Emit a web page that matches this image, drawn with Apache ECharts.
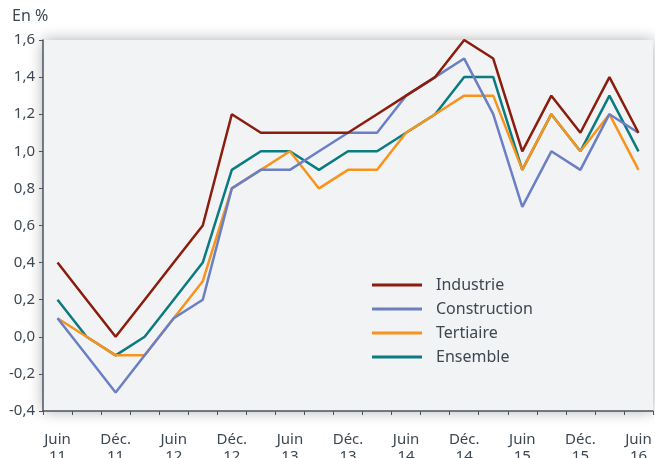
<!DOCTYPE html>
<html>
<head>
<meta charset="utf-8">
<script src="https://cdn.jsdelivr.net/npm/echarts@6/dist/echarts.min.js"></script>
<style>
  html, body { margin: 0; padding: 0; background: #fff; }
  #chart { width: 655px; height: 458px; }
</style>
</head>
<body>
<div id="chart"></div>
<script>
// trimestres, de juin 2011 à juin 2016
const quarters = [
  'Juin\n11', 'Sept.\n11', 'Déc.\n11', 'Mars\n12', 'Juin\n12', 'Sept.\n12', 'Déc.\n12',
  'Mars\n13', 'Juin\n13', 'Sept.\n13', 'Déc.\n13', 'Mars\n14', 'Juin\n14', 'Sept.\n14',
  'Déc.\n14', 'Mars\n15', 'Juin\n15', 'Sept.\n15', 'Déc.\n15', 'Mars\n16', 'Juin\n16'
]

const industrie    = [0.4, 0.2, 0.0, 0.2, 0.4, 0.6, 1.2, 1.1, 1.1, 1.1, 1.1, 1.2, 1.3, 1.4, 1.6, 1.5, 1.0, 1.3, 1.1, 1.4, 1.1]
const construction = [0.1, -0.1, -0.3, -0.1, 0.1, 0.2, 0.8, 0.9, 0.9, 1.0, 1.1, 1.1, 1.3, 1.4, 1.5, 1.2, 0.7, 1.0, 0.9, 1.2, 1.1]
const tertiaire    = [0.1, 0.0, -0.1, -0.1, 0.1, 0.3, 0.8, 0.9, 1.0, 0.8, 0.9, 0.9, 1.1, 1.2, 1.3, 1.3, 0.9, 1.2, 1.0, 1.2, 0.9]
const ensemble     = [0.2, 0.0, -0.1, 0.0, 0.2, 0.4, 0.9, 1.0, 1.0, 0.9, 1.0, 1.0, 1.1, 1.2, 1.4, 1.4, 0.9, 1.2, 1.0, 1.3, 1.0]

const seriesNames = ['Industrie', 'Construction', 'Tertiaire', 'Ensemble']
const colors = ['#8b1d0e', '#6a7fc4', '#f7941e', '#0a7b80']

const textColor = '#3d4752'
const axisColor = '#4a5560'
const font = '"Noto Sans", sans-serif'

const chart = echarts.init(document.getElementById('chart'))

const makeLine = (name, data, i) => ({
  name: name,
  type: 'line',
  data: data,
  symbol: 'none',
  color: colors[i],
  lineStyle: { width: 2.5, color: colors[i] },
  z: 10 - i,
  animation: false
})

chart.setOption({
  backgroundColor: '#ffffff',
  textStyle: { fontFamily: font },
  graphic: [
    {
      type: 'text',
      left: 12,
      top: 8,
      style: { text: 'En %', fontSize: 16, fill: textColor, fontFamily: font }
    }
  ],
  grid: {
    left: 43,
    right: 2,
    top: 40,
    bottom: 47,
    outerBoundsMode: 'none',
    containLabel: false,
    show: true,
    backgroundColor: '#f2f3f5',
    borderWidth: 0,
    shadowBlur: 14,
    shadowColor: 'rgba(0,0,0,0.32)'
  },
  legend: {
    orient: 'vertical',
    left: 367,
    top: 272,
    icon: 'rect',
    itemWidth: 50,
    itemHeight: 3,
    itemGap: 8,
    textStyle: {
      fontSize: 16,
      lineHeight: 16,
      color: textColor,
      fontFamily: font,
      padding: [0, 0, 0, 9]
    },
    data: seriesNames
  },
  xAxis: {
    type: 'category',
    data: quarters,
    boundaryGap: true,
    axisLine: { onZero: false, lineStyle: { color: axisColor, width: 1.5 } },
    axisTick: { show: true, interval: 0, length: 4, lineStyle: { color: axisColor } },
    axisLabel: {
      interval: 1,
      color: textColor,
      fontSize: 15,
      lineHeight: 17,
      margin: 20,
      fontFamily: font
    },
    splitLine: { show: false }
  },
  yAxis: {
    type: 'value',
    min: -0.4,
    max: 1.6,
    interval: 0.2,
    axisLine: { show: true, lineStyle: { color: axisColor, width: 1.5 } },
    axisTick: { show: true, length: 4, lineStyle: { color: axisColor } },
    axisLabel: {
      color: textColor,
      fontSize: 15,
      margin: 8,
      fontFamily: font,
      formatter: v => v.toFixed(1).replace('.', ',')
    },
    splitLine: { show: false }
  },
  series: [
    makeLine(seriesNames[0], industrie, 0),
    makeLine(seriesNames[1], construction, 1),
    makeLine(seriesNames[2], tertiaire, 2),
    makeLine(seriesNames[3], ensemble, 3)
  ]
})
</script>
</body>
</html>
